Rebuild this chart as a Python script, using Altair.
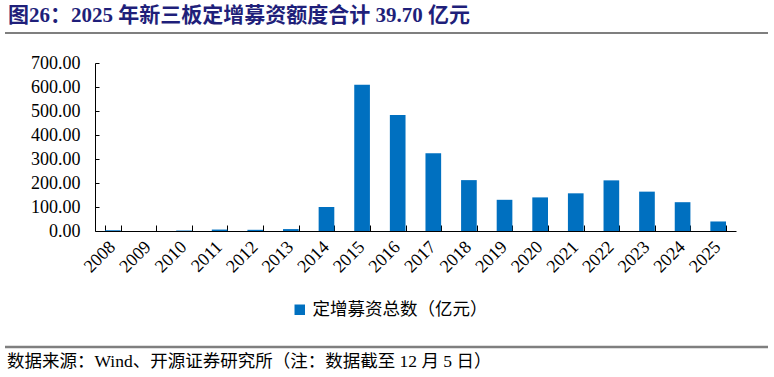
import altair as alt
import pandas as pd

years = ["2008", "2009", "2010", "2011", "2012", "2013", "2014", "2015", "2016",
         "2017", "2018", "2019", "2020", "2021", "2022", "2023", "2024", "2025"]
values = [3, 0, 2, 6, 5, 8, 100, 609, 483, 324, 212, 130, 140, 157, 211, 164, 120, 39.70]
series_name = "定增募资总数（亿元）"
y_ticks = [0, 100, 200, 300, 400, 500, 600, 700]
title_text = ["图26：2025 年新三板定增募资额度合计 39.70 亿元"]
source_text = ["数据来源：Wind、开源证券研究所（注：数据截至 12 月 5 日）"]

FONT = "Liberation Serif, Noto Sans CJK SC"
BLUE = "#0070C0"
W, H = 641, 168
LEFT, TOP = 95, 63

df = pd.DataFrame({"year": years, "value": values, "series": [series_name] * len(years)})

x_scale = alt.Scale(paddingInner=0.56, paddingOuter=0.28)
y_scale = alt.Scale(domain=[0, 700], nice=False)

base = alt.Chart(df)

bars = base.mark_bar().encode(
    x=alt.X("year:N", sort=years, scale=x_scale,
            axis=alt.Axis(title=None, labelAngle=-45, labelAlign="right", labelBaseline="middle",
                          labelPadding=13, labelFont=FONT, labelFontSize=18, labelColor="black",
                          ticks=False, domainColor="black", domainWidth=1, orient="bottom")),
    y=alt.Y("value:Q", scale=y_scale,
            axis=alt.Axis(title=None, values=y_ticks, format=".2f", labelFont=FONT, labelFontSize=18,
                          labelColor="black", ticks=False, grid=False, domainColor="black",
                          domainWidth=1, labelPadding=15, orient="left")),
    color=alt.Color("series:N", scale=alt.Scale(domain=[series_name], range=[BLUE]),
                    legend=alt.Legend(title=None, orient="none", legendX=196, legendY=238,
                                      symbolType="square", symbolSize=110, symbolStrokeWidth=0,
                                      labelFont=FONT, labelFontSize=17.5, labelColor="black",
                                      labelOffset=4, labelLimit=0)),
)

tick_layer = base.mark_bar(opacity=0).encode(
    x=alt.X("year:N", sort=years, scale=x_scale,
            axis=alt.Axis(title=None, orient="top", offset=-H, labels=False, domain=False,
                          ticks=True, tickBand="extent", tickSize=6, tickColor="black")),
    y=alt.Y("value:Q", scale=y_scale,
            axis=alt.Axis(title=None, orient="right", offset=-W, labels=False, domain=False,
                          values=y_ticks, ticks=True, tickSize=4, tickColor="black", grid=False)),
)

title_df = pd.DataFrame({"t": title_text})
src_df = pd.DataFrame({"t": source_text})

title = alt.Chart(title_df).mark_text(
    align="left", baseline="middle", font=FONT, fontSize=21, fontWeight="bold", color="#1F1F7A"
).encode(x=alt.value(8 - LEFT), y=alt.value(16 - TOP), text="t:N")

source = alt.Chart(src_df).mark_text(
    align="left", baseline="middle", font=FONT, fontSize=17.5, color="black"
).encode(x=alt.value(7 - LEFT), y=alt.value(362 - TOP), text="t:N")

rule_top = alt.Chart(title_df).mark_rule(color="#7F7F7F", strokeWidth=2).encode(
    x=alt.value(5 - LEFT), x2=alt.value(768 - LEFT), y=alt.value(33 - TOP))
rule_bottom = alt.Chart(src_df).mark_rule(color="#7F7F7F", strokeWidth=2.5).encode(
    x=alt.value(5 - LEFT), x2=alt.value(768 - LEFT), y=alt.value(347 - TOP))

chart = alt.layer(bars, tick_layer, title, source, rule_top, rule_bottom).resolve_axis(
    x="independent", y="independent"
).properties(
    width=W, height=H,
    padding={"left": LEFT, "top": TOP, "right": 774 - LEFT - W, "bottom": 377 - TOP - H},
    autosize=alt.AutoSizeParams(type="none"),
    background="white",
).configure_view(stroke=None)

chart.save("out.html", embed_options={"renderer": "svg", "actions": False})
